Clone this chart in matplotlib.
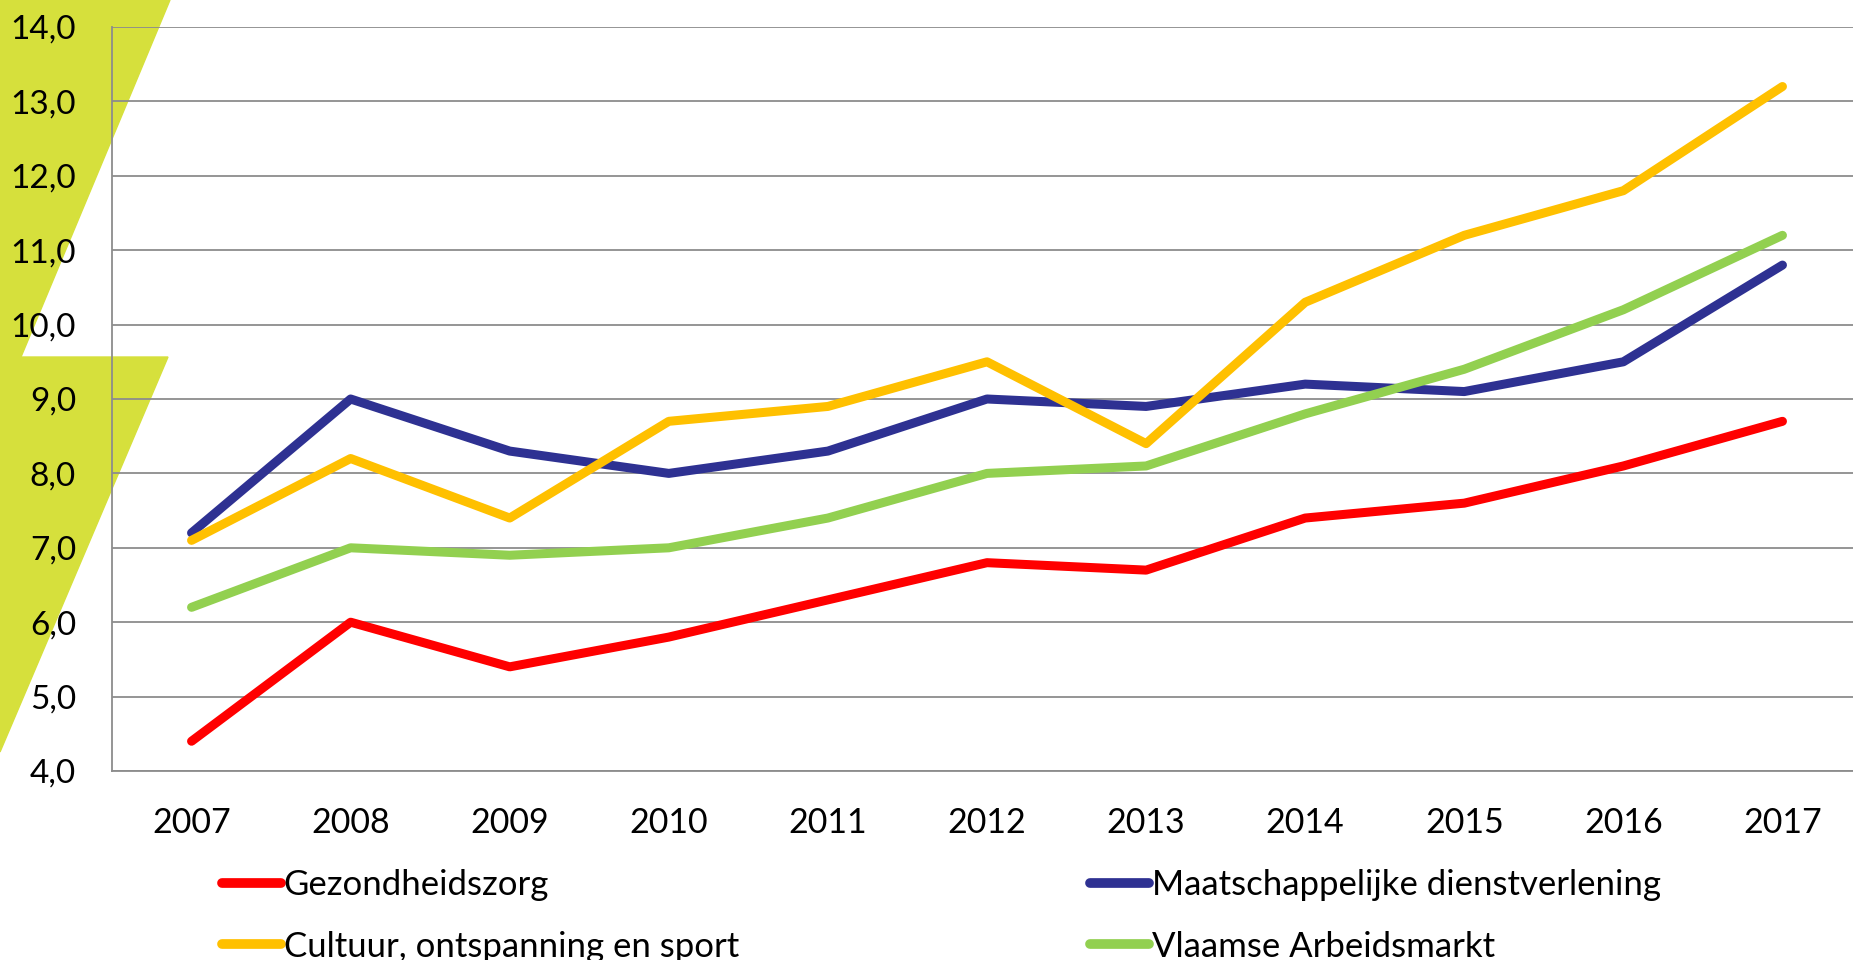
import matplotlib
matplotlib.use("Agg")
import matplotlib.pyplot as plt
from matplotlib.patches import Polygon

years = ["2007", "2008", "2009", "2010", "2011", "2012", "2013", "2014", "2015", "2016", "2017"]
gezondheidszorg = [4.4, 6.0, 5.4, 5.8, 6.3, 6.8, 6.7, 7.4, 7.6, 8.1, 8.7]
maatschappelijke = [7.2, 9.0, 8.3, 8.0, 8.3, 9.0, 8.9, 9.2, 9.1, 9.5, 10.8]
cultuur = [7.1, 8.2, 7.4, 8.7, 8.9, 9.5, 8.4, 10.3, 11.2, 11.8, 13.2]
vlaamse = [6.2, 7.0, 6.9, 7.0, 7.4, 8.0, 8.1, 8.8, 9.4, 10.2, 11.2]
yticks = [4, 5, 6, 7, 8, 9, 10, 11, 12, 13, 14]

labels = ["Gezondheidszorg", "Maatschappelijke dienstverlening",
          "Cultuur, ontspanning en sport", "Vlaamse Arbeidsmarkt"]
colors = ["#FF0000", "#2E3192", "#FFC000", "#92D050"]

plt.rcParams['font.family'] = ['Lato', 'DejaVu Sans']

W, H = 1853, 960
fig = plt.figure(figsize=(W / 100, H / 100), dpi=100)

# decorative green shapes (figure pixel coords)
green = "#D6E03C"
def fp(pts):
    return [(x / W, 1 - y / H) for x, y in pts]
fig.patches.append(Polygon(fp([(0, 0), (170, 0), (21, 357), (0, 357)]),
                           closed=True, transform=fig.transFigure, color=green, zorder=-5))
fig.patches.append(Polygon(fp([(0, 357), (168, 357), (0, 752)]),
                           closed=True, transform=fig.transFigure, color=green, zorder=-5))

ax = fig.add_axes([112 / W, (H - 771) / H, 1750 / W, 744 / H])
ax.patch.set_alpha(0)

x = list(range(len(years)))
series = [gezondheidszorg, maatschappelijke, cultuur, vlaamse]
handles = []
for vals, c, lab in zip(series, colors, labels):
    h, = ax.plot(x, vals, color=c, lw=6.5, solid_capstyle='round',
                 solid_joinstyle='round', label=lab, zorder=3)
    handles.append(h)

ax.set_xlim(-0.5, 10.5)
ax.set_ylim(4, 14)
ax.set_yticks(yticks)
ax.set_yticklabels([f"{v:.1f}".replace(".", ",") for v in yticks])
ax.set_xticks(x)
ax.set_xticklabels(years)
ax.tick_params(axis='both', length=0, colors='black')
ax.tick_params(axis='y', pad=26, labelsize=24)
ax.tick_params(axis='x', pad=26, labelsize=24.5)
ax.grid(axis='y', color='#8C8C8C', lw=1.3, zorder=1)
ax.set_axisbelow(True)
for s in ['top', 'right']:
    ax.spines[s].set_visible(False)
for s in ['left', 'bottom']:
    ax.spines[s].set_color('#8C8C8C')
    ax.spines[s].set_linewidth(1.3)

# legend in two columns
leg_kw = dict(frameon=False, fontsize=25, handlelength=1.7, handletextpad=0.08,
              borderpad=0, borderaxespad=0, labelspacing=0.85, loc='upper left')
l1 = fig.legend([handles[0], handles[2]], [labels[0], labels[2]],
                bbox_to_anchor=(222 / W, 1 - 869 / H), **leg_kw)
l2 = fig.legend([handles[1], handles[3]], [labels[1], labels[3]],
                bbox_to_anchor=(1090 / W, 1 - 869 / H), **leg_kw)
for lg in (l1, l2):
    for ln in lg.get_lines():
        ln.set_linewidth(7)
        ln.set_solid_capstyle('round')

fig.savefig("out.png", dpi=100)
